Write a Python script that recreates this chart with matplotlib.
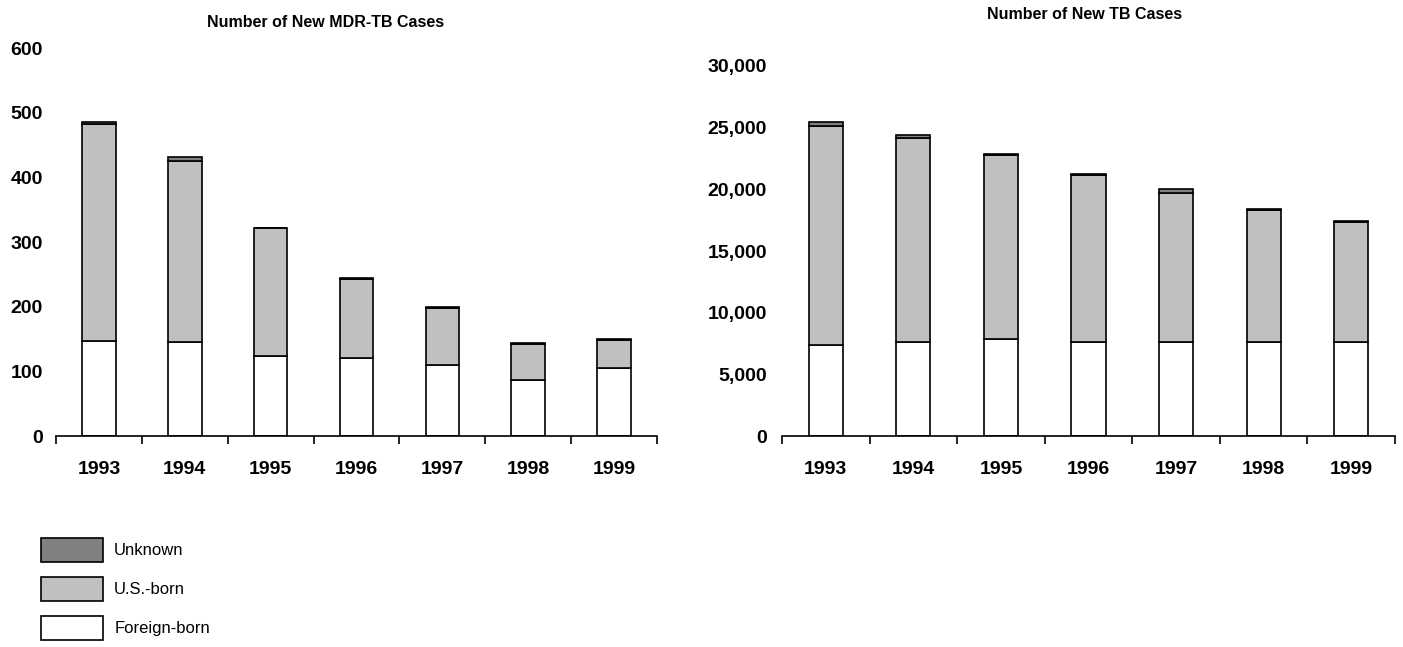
import numpy as np
import matplotlib.pyplot as plt
from matplotlib.patches import Patch
from matplotlib.ticker import FuncFormatter

plt.rcParams['font.family'] = ['Liberation Sans', 'DejaVu Sans']

years = ["1993", "1994", "1995", "1996", "1997", "1998", "1999"]

# MDR-TB cases
mdr_foreign = [147, 146, 124, 120, 110, 87, 105]
mdr_us = [335, 279, 197, 123, 88, 56, 44]
mdr_unknown = [3, 6, 1, 1, 2, 1, 1]

# all TB cases
tb_foreign = [7370, 7620, 7860, 7620, 7620, 7600, 7600]
tb_us = [17800, 16530, 14910, 13550, 12070, 10740, 9770]
tb_unknown = [300, 240, 80, 110, 325, 80, 30]

FOREIGN_C = "white"
US_C = "#c0c0c0"
UNK_C = "#808080"
EDGE = "black"


def stacked(ax, foreign, us, unknown, ymax, step, fmt, ypad):
    x = np.arange(len(years))
    f = np.array(foreign)
    u = np.array(us)
    k = np.array(unknown)
    kw = dict(width=0.39, edgecolor=EDGE, linewidth=1.2)
    ax.bar(x, f, color=FOREIGN_C, **kw)
    ax.bar(x, u, bottom=f, color=US_C, **kw)
    ax.bar(x, k, bottom=f + u, color=UNK_C, **kw)

    ax.set_xlim(-0.5, len(years) - 0.5)
    ax.set_ylim(0, ymax)
    for s in ["top", "right", "left"]:
        ax.spines[s].set_visible(False)
    ax.spines["bottom"].set_linewidth(1.2)

    # labels at bar centres, tick marks between categories
    ax.set_xticks(x)
    ax.set_xticklabels(years, fontsize=14, fontweight="bold")
    ax.set_xticks(np.arange(len(years) + 1) - 0.5, minor=True)
    ax.tick_params(axis="x", which="major", length=0, pad=18)
    ax.tick_params(axis="x", which="minor", length=6, width=1.2, direction="out")

    ax.set_yticks(np.arange(0, ymax + 1, step))
    ax.yaxis.set_major_formatter(FuncFormatter(fmt))
    ax.tick_params(axis="y", length=0, pad=ypad, labelsize=14)
    for t in ax.get_yticklabels():
        t.set_fontweight("bold")


fig = plt.figure(figsize=(14.03, 6.47), dpi=100)

ax1 = fig.add_axes([0.0399, 0.326, 0.4284, 0.5997])
stacked(ax1, mdr_foreign, mdr_us, mdr_unknown, 600, 100,
        lambda v, p: f"{int(v)}", 9.5)
fig.text(0.232, 0.965, "Number of New MDR-TB Cases", ha="center", va="center",
         fontsize=11.5, fontweight="bold")

ax2 = fig.add_axes([0.5574, 0.326, 0.4369, 0.572])
stacked(ax2, tb_foreign, tb_us, tb_unknown, 30000, 5000,
        lambda v, p: f"{int(v):,}", 11)
fig.text(0.773, 0.978, "Number of New TB Cases", ha="center", va="center",
         fontsize=11.5, fontweight="bold")

handles = [
    Patch(facecolor=UNK_C, edgecolor=EDGE, linewidth=1.2, label="Unknown"),
    Patch(facecolor=US_C, edgecolor=EDGE, linewidth=1.2, label="U.S.-born"),
    Patch(facecolor=FOREIGN_C, edgecolor=EDGE, linewidth=1.2, label="Foreign-born"),
]
fig.legend(handles=handles, loc="upper left", bbox_to_anchor=(0.029, 0.169),
           frameon=False, fontsize=12,
           handlelength=3.75, handleheight=1.84, labelspacing=0.9,
           handletextpad=0.66, borderaxespad=0, borderpad=0)

fig.savefig("out.png", dpi=100)
